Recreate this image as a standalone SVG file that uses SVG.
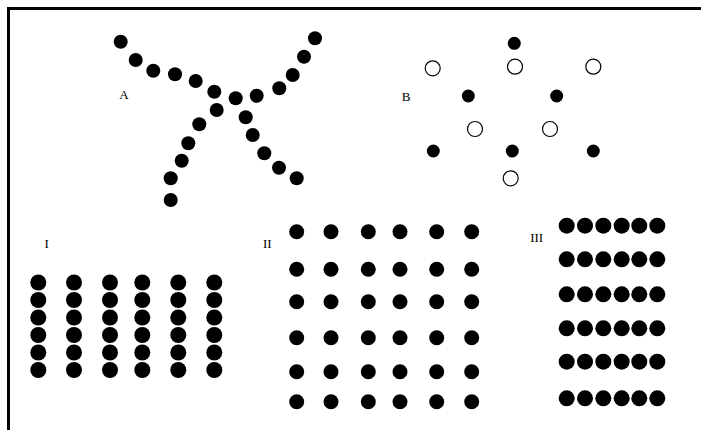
<svg xmlns="http://www.w3.org/2000/svg" width="701" height="430" viewBox="0 0 701 430">
<style>
.f{fill:#000}
.o{fill:#fff;stroke:#000;stroke-width:1.2}
.t{font-family:"Liberation Serif",serif;font-size:13px;fill:#000}
</style>
<rect width="701" height="430" fill="#fff"/>
<path d="M8.5 430 V8.5 H701" fill="none" stroke="#000" stroke-width="3"/>
<g id="figA">
<text class="t" x="124" y="98.5" text-anchor="middle">A</text>
<g class="f">
<circle cx="120.7" cy="41.7" r="7"/>
<circle cx="135.7" cy="60" r="7"/>
<circle cx="153.3" cy="70.7" r="7"/>
<circle cx="175" cy="74.3" r="7"/>
<circle cx="195.7" cy="81" r="7"/>
<circle cx="214.3" cy="91.7" r="7"/>
<circle cx="235.7" cy="98.3" r="7"/>
<circle cx="256.7" cy="95.7" r="7"/>
<circle cx="279.3" cy="88.3" r="7"/>
<circle cx="292.7" cy="75" r="7"/>
<circle cx="304" cy="56.7" r="7"/>
<circle cx="315" cy="38.3" r="7"/>
<circle cx="170.7" cy="200" r="7"/>
<circle cx="170.7" cy="178.3" r="7"/>
<circle cx="181.7" cy="160.7" r="7"/>
<circle cx="188.3" cy="143.3" r="7"/>
<circle cx="199.3" cy="124.3" r="7"/>
<circle cx="216.7" cy="110" r="7"/>
<circle cx="245.7" cy="117.3" r="7"/>
<circle cx="252.7" cy="135" r="7"/>
<circle cx="264.3" cy="153.3" r="7"/>
<circle cx="279" cy="167.7" r="7"/>
<circle cx="296.7" cy="178.3" r="7"/>
</g>
</g>
<g id="figB">
<text class="t" x="406" y="100.5" text-anchor="middle">B</text>
<g class="f">
<circle cx="514.3" cy="43.3" r="6.5"/>
<circle cx="468.3" cy="96" r="6.5"/>
<circle cx="556.7" cy="96" r="6.5"/>
<circle cx="433.3" cy="151" r="6.5"/>
<circle cx="512.3" cy="151" r="6.5"/>
<circle cx="593.3" cy="151" r="6.5"/>
</g>
<g class="o">
<circle cx="432.7" cy="68.3" r="7.5"/>
<circle cx="515" cy="66.7" r="7.5"/>
<circle cx="593.3" cy="66.7" r="7.5"/>
<circle cx="475" cy="129" r="7.5"/>
<circle cx="550" cy="129" r="7.5"/>
<circle cx="510.7" cy="178.3" r="7.5"/>
</g>
</g>
<g id="figI">
<text class="t" x="46.7" y="248" text-anchor="middle">I</text>
<g class="f">
<g id="colI1"><circle cx="38.3" cy="282.5" r="8"/><circle cx="38.3" cy="300" r="8"/><circle cx="38.3" cy="317.5" r="8"/><circle cx="38.3" cy="335" r="8"/><circle cx="38.3" cy="352.5" r="8"/><circle cx="38.3" cy="370" r="8"/></g>
<use href="#colI1" x="35.7"/>
<use href="#colI1" x="71.7"/>
<use href="#colI1" x="104"/>
<use href="#colI1" x="140"/>
<use href="#colI1" x="176"/>
</g>
</g>
<g id="figII">
<text class="t" x="267.3" y="248" text-anchor="middle">II</text>
<g class="f">
<g id="rowII"><circle cx="296.7" cy="231.7" r="7.5"/><circle cx="331" cy="231.7" r="7.5"/><circle cx="368.3" cy="231.7" r="7.5"/><circle cx="400" cy="231.7" r="7.5"/><circle cx="436.7" cy="231.7" r="7.5"/><circle cx="471.7" cy="231.7" r="7.5"/></g>
<use href="#rowII" y="37.6"/>
<use href="#rowII" y="70"/>
<use href="#rowII" y="106"/>
<use href="#rowII" y="140"/>
<use href="#rowII" y="170"/>
</g>
</g>
<g id="figIII">
<text class="t" x="536.7" y="241.5" text-anchor="middle">III</text>
<g class="f">
<g id="rowIII"><circle cx="566.7" cy="225.7" r="8"/><circle cx="585" cy="225.7" r="8"/><circle cx="603.3" cy="225.7" r="8"/><circle cx="621.7" cy="225.7" r="8"/><circle cx="639.3" cy="225.7" r="8"/><circle cx="657.3" cy="225.7" r="8"/></g>
<use href="#rowIII" y="33.6"/>
<use href="#rowIII" y="68.6"/>
<use href="#rowIII" y="102.6"/>
<use href="#rowIII" y="136"/>
<use href="#rowIII" y="172.6"/>
</g>
</g>
</svg>
